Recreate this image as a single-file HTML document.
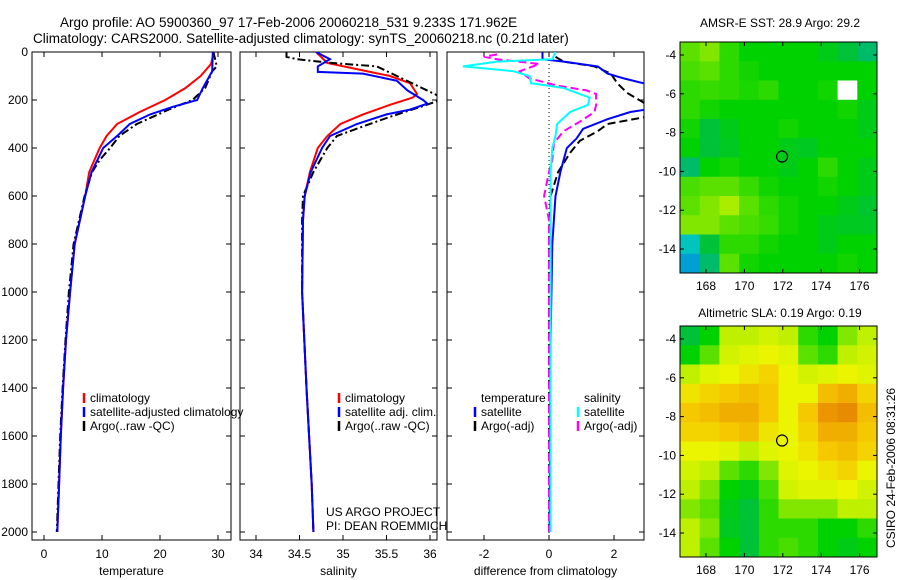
<!DOCTYPE html>
<html><head><meta charset="utf-8"><style>
html,body{margin:0;padding:0;background:#fff;}
svg{display:block;font-family:"Liberation Sans",Arial,sans-serif;}
</style></head><body>
<svg id="fig" width="900" height="580" viewBox="0 0 900 580" xmlns="http://www.w3.org/2000/svg">
<text x="60" y="27" font-size="13.5">Argo profile: AO 5900360_97 17-Feb-2006 20060218_531 9.233S 171.962E</text>
<text x="33" y="43" font-size="13.5">Climatology: CARS2000. Satellite-adjusted climatology: synTS_20060218.nc (0.21d later)</text>
<text x="780" y="27" font-size="12" text-anchor="middle">AMSR-E SST: 28.9 Argo: 29.2</text>
<text x="780" y="317" font-size="12" text-anchor="middle">Altimetric SLA: 0.19 Argo: 0.19</text>
<text transform="translate(895,548) rotate(-90)" font-size="12">CSIRO 24-Feb-2006 08:31:26</text>
<text x="326" y="516" font-size="12">US ARGO PROJECT</text>
<text x="326" y="530" font-size="12">PI: DEAN ROEMMICH</text>
<g id="plots"></g>
</svg>
<script>
// ---- data ----
const depthTicks=[0,200,400,600,800,1000,1200,1400,1600,1800,2000];
const tempTicks=[0,10,20,30];
const salTicks=[34,34.5,35,35.5,36];
const diffTicks=[-2,0,2];
const tClimD=[0,50,100,150,200,250,300,350,400,500,600,800,1000,1200,1400,1600,1800,2000];
const tClimV=[29.3,28.8,27,24.4,20.9,16.5,12.6,10.8,9.6,7.8,7.1,5.3,4.5,3.8,3.3,2.9,2.6,2.3];
const tSatD=[0,80,150,200,228,260,300,346,400,500,600,800,1000,1200,1400,1600,1800,2000];
const tSatV=[29.1,29,27.4,26.4,22.3,18.3,14.8,12.8,10.2,8.2,7.1,5.3,4.5,3.8,3.3,2.9,2.6,2.3];
const tArgoD=[0,40,60,80,150,200,240,300,350,400,450,500,600,800,1000,1200,1400,1600,1800,2000];
const tArgoV=[29.2,29.6,29.8,29,27.8,25.6,21.5,16,13,11.4,9.6,8.3,7,5.1,4.3,3.7,3.2,2.8,2.5,2.2];
const sClimD=[0,46,83,100,130,175,190,220,260,300,350,400,500,600,700,1000,1400,1800,2000];
const sClimV=[34.69,34.82,35.31,35.54,35.77,35.85,35.8,35.54,35.23,34.97,34.82,34.71,34.62,34.56,34.54,34.53,34.58,34.64,34.66];
const sSatD=[0,30,60,83,90,120,160,200,215,240,260,300,350,400,500,600,700,1000,1400,1800,2000];
const sSatV=[34.69,34.85,34.71,34.71,35.23,35.62,35.74,35.92,35.97,35.77,35.5,35.16,34.85,34.76,34.63,34.56,34.54,34.53,34.58,34.64,34.66];
const sArgoD=[0,20,30,45,60,100,140,180,200,230,270,310,350,400,500,600,700,1000,1400,1800,2000];
const sArgoV=[34.35,34.35,34.47,34.85,35.39,35.62,35.85,36.08,36.12,35.88,35.54,35.23,34.93,34.82,34.66,34.54,34.53,34.53,34.58,34.64,34.66];
const dTSatD=[0,30,40,60,90,110,140,235,250,280,320,360,400,450,500,600,700,800,1200,2000];
const dTSatV=[-0.2,-0.2,0.45,1.5,1.8,2.3,3.2,3.2,2.5,1.8,1.05,0.85,0.55,0.45,0.35,0.2,0.15,0.1,0.05,0.02];
const dTArgoD=[20,40,60,90,130,170,210,240,270,300,330,370,420,500,600,800,1200,2000];
const dTArgoV=[0.2,0.45,1.4,1.9,2.1,2.4,2.9,3.2,3.0,1.8,1.5,0.95,0.65,0.28,0.05,0.0,0.0,0.0];
const dSSatD=[0,30,40,60,80,100,130,150,190,220,250,300,350,400,500,800,1200,2000];
const dSSatV=[0.2,0.1,-1.6,-2.65,-1.1,-0.6,-0.55,0.45,1.25,1.2,0.65,0.25,0.2,0.1,0.05,0.05,0.05,0.05];
const dSArgoD=[10,20,30,50,80,110,140,160,175,220,250,290,330,380,450,500,600,700,1000,2000];
const dSArgoV=[-1.6,-2.0,-1.6,-0.3,-0.9,-0.6,0.25,1.15,1.45,1.45,1.4,0.95,0.45,0.15,0.1,0.0,-0.15,0.0,0.0,0.0];
const lonTicks=[168,170,172,174,176];
const latTicks=[-4,-6,-8,-10,-12,-14];
const sstGrid=[
[0.6,0.62,0.55,0.5,0.5,0.5,0.5,0.48,0.45,0.4],
[0.58,0.6,0.55,0.52,0.5,0.5,0.5,0.5,0.5,0.5],
[0.55,0.56,0.55,0.53,0.55,0.5,0.5,0.52,null,0.5],
[0.55,0.52,0.5,0.5,0.5,0.5,0.5,0.5,0.52,0.48],
[0.52,0.45,0.48,0.5,0.5,0.52,0.5,0.5,0.5,0.48],
[0.5,0.45,0.47,0.5,0.5,0.48,0.47,0.5,0.5,0.5],
[0.4,0.5,0.52,0.5,0.5,0.48,0.5,0.55,0.5,0.48],
[0.58,0.6,0.6,0.56,0.52,0.5,0.5,0.52,0.5,0.48],
[0.6,0.62,0.64,0.6,0.55,0.52,0.5,0.5,0.48,0.46],
[0.62,0.62,0.6,0.58,0.56,0.52,0.5,0.48,0.47,0.47],
[0.3,0.45,0.55,0.55,0.52,0.5,0.5,0.48,0.5,0.5],
[0.2,0.4,0.6,0.52,0.5,0.5,0.5,0.5,0.52,0.5]];
const slaGrid=[
[0.45,0.5,0.65,0.65,0.68,0.65,0.55,0.5,0.62,0.65],
[0.5,0.6,0.68,0.7,0.72,0.7,0.6,0.55,0.65,0.68],
[0.65,0.7,0.72,0.75,0.78,0.72,0.68,0.7,0.72,0.7],
[0.75,0.78,0.8,0.82,0.8,0.72,0.72,0.82,0.85,0.78],
[0.8,0.82,0.85,0.85,0.8,0.72,0.8,0.9,0.92,0.82],
[0.78,0.78,0.8,0.82,0.75,0.72,0.78,0.85,0.85,0.8],
[0.72,0.72,0.7,0.65,0.7,0.72,0.75,0.8,0.82,0.78],
[0.68,0.65,0.6,0.55,0.62,0.7,0.72,0.75,0.78,0.72],
[0.65,0.62,0.5,0.48,0.58,0.68,0.7,0.7,0.72,0.68],
[0.62,0.6,0.48,0.45,0.55,0.62,0.62,0.62,0.65,0.65],
[0.65,0.62,0.47,0.45,0.55,0.55,0.55,0.5,0.5,0.55],
[0.65,0.6,0.5,0.45,0.55,0.58,0.55,0.5,0.48,0.5]];
const argoLon=[171.962];
const argoLat=[-9.233];

// ---- drawing ----
const NS='http://www.w3.org/2000/svg';
const root=document.getElementById('plots');
function mk(tag,attrs,parent){const e=document.createElementNS(NS,tag);for(const k in attrs)e.setAttribute(k,attrs[k]);(parent||root).appendChild(e);return e;}
const Y0=52,YS=0.24,PT=52,PB=540;
const yD=d=>Y0+d*YS;
const panels=[
 {L:32,R:231,x:v=>44+v*5.8,ticks:tempTicks,label:'temperature',name:'temperature-panel'},
 {L:240,R:437,x:v=>256+(v-34)*87,ticks:salTicks,label:'salinity',name:'salinity-panel'},
 {L:447,R:644,x:v=>549+v*32.5,ticks:diffTicks,label:'difference from climatology',name:'difference-panel'}];
panels.forEach((p,i)=>{
  const g=mk('g',{});
  
  
  const cp=mk('clipPath',{id:'cp'+i},g);mk('rect',{x:p.L,y:PT,width:p.R-p.L,height:PB-PT},cp);
  p.g=g;
  const fr=mk('rect',{x:p.L,y:PT,width:p.R-p.L,height:PB-PT,fill:'none',stroke:'#000','stroke-width':1},g);
  
  
  p.ticks.forEach(t=>{const x=p.x(t);
    mk('line',{x1:x,y1:PB,x2:x,y2:PB-5,stroke:'#000'},g);mk('line',{x1:x,y1:PT,x2:x,y2:PT+5,stroke:'#000'},g);
    const tx=mk('text',{x:x,y:PB+18,'font-size':12,'text-anchor':'middle'},g);tx.textContent=t;
    
    });
  depthTicks.forEach(d=>{const y=yD(d);
    mk('line',{x1:p.L,y1:y,x2:p.L+5,y2:y,stroke:'#000'},g);mk('line',{x1:p.R,y1:y,x2:p.R-5,y2:y,stroke:'#000'},g);
    if(i===0){const tx=mk('text',{x:28,y:y+4,'font-size':12,'text-anchor':'end'},g);tx.textContent=d;
      
      }});
  const xl=mk('text',{x:(p.L+p.R)/2,y:575,'font-size':12,'text-anchor':'middle'},g);xl.textContent=p.label;
  
  
});
mk('line',{x1:549,y1:PT,x2:549,y2:PB,stroke:'#000','stroke-dasharray':'1,3'},panels[2].g);
function series(pi,D,V,color,dash,name){
  const p=panels[pi];
  const pts=D.map((d,k)=>p.x(V[k]).toFixed(1)+','+yD(d).toFixed(1)).join(' ');
  const e=mk('polyline',{points:pts,fill:'none',stroke:color,'stroke-width':2,'clip-path':'url(#cp'+pi+')'},p.g);
  if(dash)e.setAttribute('stroke-dasharray',dash);
  
  
}
series(0,tClimD,tClimV,'#f00',null,'temp-climatology-line');
series(0,tArgoD,tArgoV,'#000','8,3,2,3','temp-argo-line');
series(0,tSatD,tSatV,'#00f',null,'temp-satellite-line');
series(1,sClimD,sClimV,'#f00',null,'sal-climatology-line');
series(1,sArgoD,sArgoV,'#000','8,3,2,3','sal-argo-line');
series(1,sSatD,sSatV,'#00f',null,'sal-satellite-line');
series(2,dTArgoD,dTArgoV,'#000','8,4','dtemp-argo-line');
series(2,dTSatD,dTSatV,'#00f',null,'dtemp-satellite-line');
series(2,dSArgoD,dSArgoV,'#f0f','8,4','dsal-argo-line');
series(2,dSSatD,dSSatV,'#0ff',null,'dsal-satellite-line');
function legend(x,y,color,txt,g){
  if(color){mk('line',{x1:x,y1:y-9,x2:x,y2:y+1,stroke:color,'stroke-width':2.5},g);}
  const t=mk('text',{x:x+6,y:y,'font-size':12},g);t.textContent=txt;
  
  
}
legend(84,402,'#f00','climatology',panels[0].g);
legend(84,416,'#00f','satellite-adjusted climatology',panels[0].g);
legend(84,430,'#000','Argo(..raw -QC)',panels[0].g);
legend(339,402,'#f00','climatology',panels[1].g);
legend(339,416,'#00f','satellite adj. clim.',panels[1].g);
legend(339,430,'#000','Argo(..raw -QC)',panels[1].g);
legend(475,402,null,'temperature',panels[2].g);
legend(475,416,'#00f','satellite',panels[2].g);
legend(475,430,'#000','Argo(-adj)',panels[2].g);
legend(578,402,null,'salinity',panels[2].g);
legend(578,416,'#0ff','satellite',panels[2].g);
legend(578,430,'#f0f','Argo(-adj)',panels[2].g);
// colormap
const cStops=[[0,[0,0,144]],[0.25,[0,200,230]],[0.42,[0,185,90]],[0.5,[0,210,0]],[0.6,[90,225,0]],[0.65,[190,240,0]],[0.72,[235,245,0]],[0.8,[245,200,0]],[0.9,[235,150,0]],[1,[215,100,0]]];
function cmap(v){for(let k=1;k<cStops.length;k++){if(v<=cStops[k][0]){const a=cStops[k-1],b=cStops[k],f=(v-a[0])/(b[0]-a[0]);return 'rgb('+a[1].map((c,j)=>Math.round(c+(b[1][j]-c)*f)).join(',')+')';}}return 'rgb(215,100,0)';}
function drawMap(grid,top,bot,name,lat4){
  const L=680,R=877,lonX=lo=>706+(lo-168)*19.2,latY=la=>lat4+(-4-la)*19.4;
  const g=mk('g',{});
  
  
  const nr=grid.length,nc=grid[0].length,cw=(R-L)/nc,ch=(bot-top)/nr;
  grid.forEach((row,r)=>row.forEach((v,c)=>{
    const cell=mk('rect',{x:L+c*cw,y:top+r*ch,width:cw+0.5,height:ch+0.5,fill:v===null?'#fff':cmap(v)},g);
    
    }));
  mk('rect',{x:L,y:top,width:R-L,height:bot-top,fill:'none',stroke:'#000'},g);
  lonTicks.forEach(t=>{const x=lonX(t);mk('line',{x1:x,y1:bot,x2:x,y2:bot-4,stroke:'#000'},g);mk('line',{x1:x,y1:top,x2:x,y2:top+4,stroke:'#000'},g);
    const tx=mk('text',{x:x,y:bot+17,'font-size':12,'text-anchor':'middle'},g);tx.textContent=t;
    
    });
  latTicks.forEach(t=>{const y=latY(t);mk('line',{x1:L,y1:y,x2:L+4,y2:y,stroke:'#000'},g);mk('line',{x1:R,y1:y,x2:R-4,y2:y,stroke:'#000'},g);
    const tx=mk('text',{x:L-4,y:y+4,'font-size':12,'text-anchor':'end'},g);tx.textContent=t;
    
    });
  const m=mk('circle',{cx:lonX(argoLon[0]),cy:latY(argoLat[0]),r:5.5,fill:'none',stroke:'#000','stroke-width':1.2},g);
  
  
}
drawMap(sstGrid,42,273,'sst-map',55);
drawMap(slaGrid,326,557,'sla-map',339);
</script>
</body></html>
